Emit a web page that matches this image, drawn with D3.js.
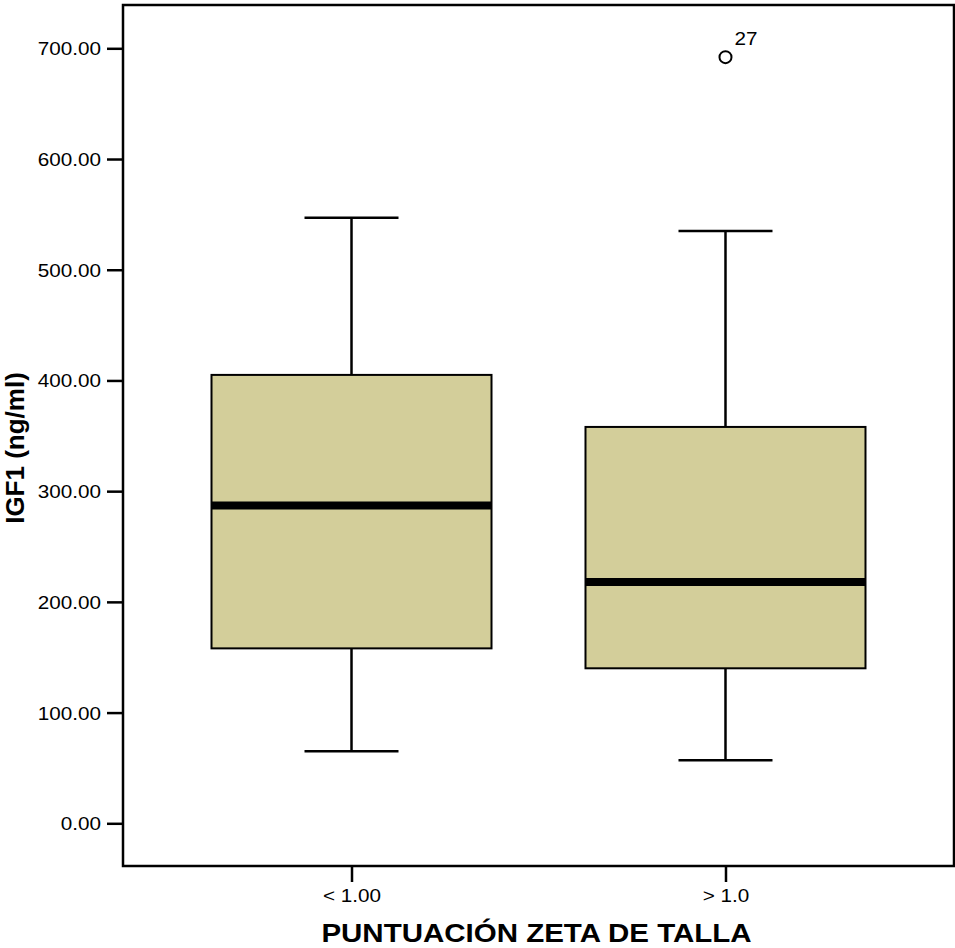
<!DOCTYPE html>
<html>
<head>
<meta charset="utf-8">
<script src="https://cdn.jsdelivr.net/npm/d3@7"></script>
<style>
  body { margin: 0; background: #fff; }
  svg { display: block; font-family: "Liberation Sans", Arial, sans-serif; }
</style>
</head>
<body>
<svg width="955" height="948"></svg>
<script>
// data
const groups = ["< 1.00", "> 1.0"];
const whiskerLow = [65, 57];
const q1 = [158, 140];
const median = [287, 218];
const q3 = [405, 358];
const whiskerHigh = [547, 535];
const outliers = [{ group: "> 1.0", value: 692, label: "27" }];
const yTicks = [0, 100, 200, 300, 400, 500, 600, 700];

const svg = d3.select("svg");
const frame = { left: 123, top: 5, right: 954, bottom: 866 };
const stretch = 1.15; // text in the reference is a bit wide

const y = d3.scaleLinear().domain([0, 700]).range([823.3, 48.3]);
const x = d3.scalePoint().domain(groups).range([frame.left, frame.right]).padding(0.611);
const boxW = 280;
const capW = 94;

// frame
svg.append("rect")
  .attr("x", frame.left).attr("y", frame.top)
  .attr("width", frame.right - frame.left)
  .attr("height", frame.bottom - frame.top)
  .attr("fill", "none").attr("stroke", "#000").attr("stroke-width", 2.5);

// y axis
const yAxis = svg.append("g")
  .attr("transform", `translate(${frame.left},0)`)
  .call(d3.axisLeft(y).tickValues(yTicks).tickFormat(d3.format(".2f")).tickSize(16).tickSizeOuter(0));
yAxis.select(".domain").remove();
yAxis.selectAll(".tick line").attr("stroke", "#000").attr("stroke-width", 2.5);
yAxis.selectAll(".tick text")
  .attr("x", -22 / stretch)
  .attr("dy", "0.36em")
  .attr("transform", `scale(${stretch},1)`)
  .attr("font-size", 18).attr("fill", "#000")
  .attr("font-family", "Liberation Sans, Arial, sans-serif");

// x axis
const xAxis = svg.append("g")
  .attr("transform", `translate(0,${frame.bottom})`)
  .call(d3.axisBottom(x).tickSize(16).tickSizeOuter(0));
xAxis.select(".domain").remove();
xAxis.selectAll(".tick line").attr("stroke", "#000").attr("stroke-width", 2.5);
xAxis.selectAll(".tick text")
  .attr("y", 36).attr("dy", 0)
  .attr("transform", `scale(${stretch},1)`)
  .attr("font-size", 18).attr("fill", "#000")
  .attr("font-family", "Liberation Sans, Arial, sans-serif");

// boxes
const rows = groups.map((g, i) => ({
  g, lo: whiskerLow[i], q1: q1[i], med: median[i], q3: q3[i], hi: whiskerHigh[i]
}));

const box = svg.append("g").selectAll("g").data(rows).join("g")
  .attr("transform", d => `translate(${x(d.g)},0)`);

box.append("line")
  .attr("x1", 0).attr("x2", 0)
  .attr("y1", d => y(d.hi)).attr("y2", d => y(d.q3))
  .attr("stroke", "#000").attr("stroke-width", 2.5);
box.append("line")
  .attr("x1", 0).attr("x2", 0)
  .attr("y1", d => y(d.q1)).attr("y2", d => y(d.lo))
  .attr("stroke", "#000").attr("stroke-width", 2.5);
box.append("line")
  .attr("x1", -capW / 2).attr("x2", capW / 2)
  .attr("y1", d => y(d.hi)).attr("y2", d => y(d.hi))
  .attr("stroke", "#000").attr("stroke-width", 2.5);
box.append("line")
  .attr("x1", -capW / 2).attr("x2", capW / 2)
  .attr("y1", d => y(d.lo)).attr("y2", d => y(d.lo))
  .attr("stroke", "#000").attr("stroke-width", 2.5);
box.append("rect")
  .attr("x", -boxW / 2).attr("width", boxW)
  .attr("y", d => y(d.q3)).attr("height", d => y(d.q1) - y(d.q3))
  .attr("fill", "#d3ce9a").attr("stroke", "#000").attr("stroke-width", 2);
box.append("line")
  .attr("x1", -boxW / 2).attr("x2", boxW / 2)
  .attr("y1", d => y(d.med)).attr("y2", d => y(d.med))
  .attr("stroke", "#000").attr("stroke-width", 8);

// outliers
const out = svg.append("g").selectAll("g").data(outliers).join("g")
  .attr("transform", d => `translate(${x(d.group)},${y(d.value)})`);
out.append("circle")
  .attr("r", 6).attr("fill", "none").attr("stroke", "#000").attr("stroke-width", 2);
out.append("text")
  .attr("x", 9 / stretch).attr("y", -12)
  .attr("transform", `scale(${stretch},1)`)
  .attr("font-size", 18).attr("fill", "#000")
  .text(d => d.label);

// axis titles
svg.append("text")
  .attr("transform", `translate(${(frame.left + frame.right) / 2 - 2},942) scale(1.18,1)`)
  .attr("text-anchor", "middle")
  .attr("font-size", 25).attr("font-weight", "bold")
  .text("PUNTUACIÓN ZETA DE TALLA");

svg.append("text")
  .attr("transform", `translate(24,448) rotate(-90)`)
  .attr("text-anchor", "middle")
  .attr("font-size", 26).attr("font-weight", "bold")
  .text("IGF1 (ng/ml)");
</script>
</body>
</html>
